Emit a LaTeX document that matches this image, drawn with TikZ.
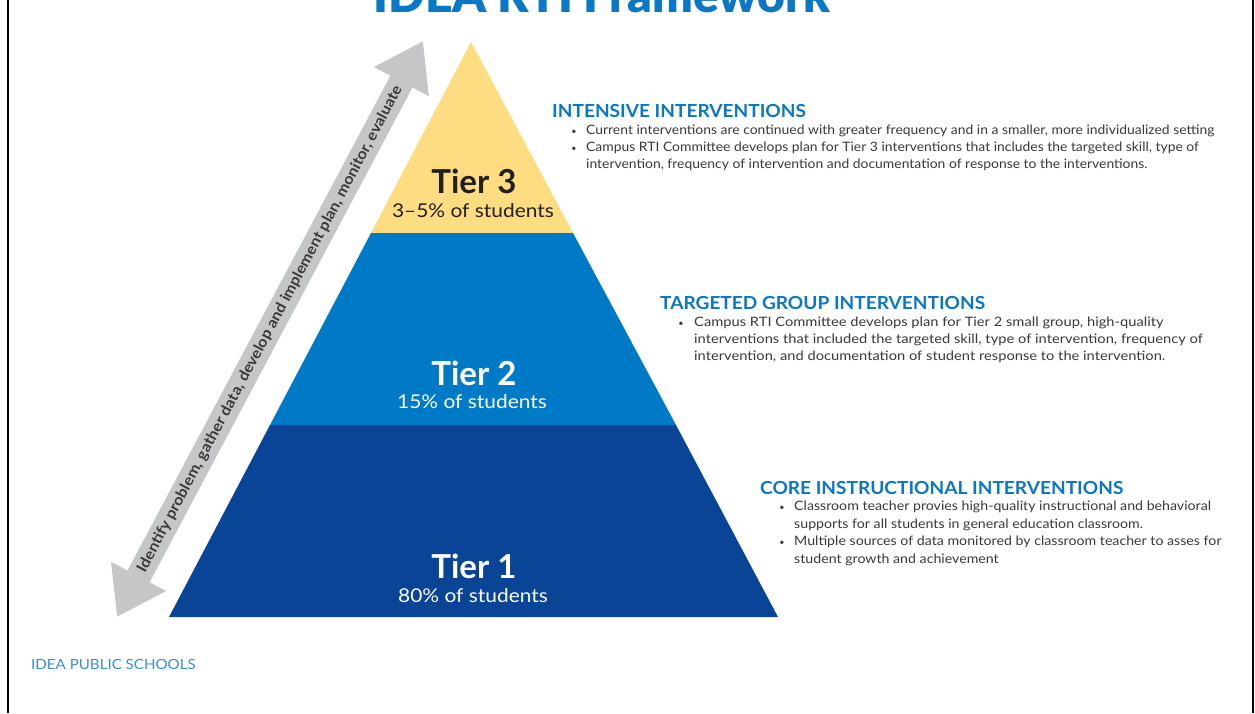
\documentclass[tikz,border=0pt]{standalone}
\usepackage{fontspec}
\setmainfont{Lato}
\newfontfamily\heavyfont{Lato Black}
\newfontfamily\shareface{Lato}[FakeStretch=1.1]
\newfontfamily\headface{Lato}[FakeStretch=1.06]
\newfontfamily\cycleface{Lato}[FakeStretch=1.07]
\newfontfamily\bodythree{Lato}[FakeStretch=1.07]
\newfontfamily\bodytwo{Lato}[FakeStretch=1.13]
\newfontfamily\bodyone{Lato}[FakeStretch=1.09]
\newfontfamily\footface{Lato}[FakeStretch=1.08]
\usetikzlibrary{arrows.meta}

\definecolor{tierthree}{HTML}{FDDC82}
\definecolor{tiertwo}{HTML}{0079C6}
\definecolor{tierone}{HTML}{0A4497}
\definecolor{headblue}{HTML}{0A78C6}
\definecolor{footblue}{HTML}{3A8FD0}
\definecolor{cyclegray}{HTML}{C5C6C8}
\definecolor{inkdark}{HTML}{231F20}
\definecolor{bodyink}{HTML}{3A3A3A}

\tikzset{
  tiername/.style={inner sep=0, font=\fontsize{33}{36}\selectfont\bfseries},
  tiershare/.style={inner sep=0, font=\shareface\fontsize{19}{22}\selectfont},
  sectionhead/.style={inner sep=0, anchor=base west, text=headblue, font=\headface\fontsize{18}{20}\selectfont\bfseries},
  bodytext/.style={inner sep=0, anchor=north west, align=left, text=bodyink},
  bulletmark/.style={inner sep=0, anchor=base, text=bodyink, font=\fontsize{9}{10}\selectfont},
  frameline/.style={line width=2.5pt, black},
  cyclehead/.tip={Triangle[width=59pt,length=46pt]},
}

\begin{document}
\begin{tikzpicture}[x=1pt, y=-1pt]
\useasboundingbox (0,0) rectangle (1255,713);
\fill[white] (0,0) rectangle (1255,713);

% side rules
\draw[frameline] (8,0) -- (8,713);
\draw[frameline] (1253,0) -- (1253,713);

% title, running off the top edge
\node[inner sep=0, anchor=base, text=headblue, font=\fontsize{48}{52}\selectfont\heavyfont] (title) at (602,12) {IDEA RTI Framework};

% pyramid tiers
\fill[tierthree] (471,42) -- (573,233) -- (371,233) -- cycle;
\fill[tiertwo] (371,233) -- (573,233) -- (676,425) -- (270,425) -- cycle;
\fill[tierone] (270,425) -- (676,425) -- (778,617) -- (169,617) -- cycle;

\node[tiername, text=inkdark] (t3) at (474,181) {Tier 3};
\node[tiershare, text=inkdark] (s3) at (473,211) {3–5\% of students};
\node[tiername, text=white] (t2) at (474,373) {Tier 2};
\node[tiershare, text=white] (s2) at (472,402) {15\% of students};
\node[tiername, text=white] (t1) at (474,566) {Tier 1};
\node[tiershare, text=white] (s1) at (473,596) {80\% of students};

% process cycle arrow
\coordinate (cyclelow) at (117,617);
\coordinate (cyclehigh) at (423,41);
\draw[cyclegray, line width=25pt, cyclehead-cyclehead] (cyclelow) -- (cyclehigh);
\path (cyclelow) -- (cyclehigh) node[midway, sloped, inner sep=0, text=bodyink, font=\cycleface\fontsize{15}{16}\selectfont\bfseries] (cycletext) {Identify problem, gather data, develop and implement plan, monitor, evaluate};

% tier 3 description
\node[sectionhead] (h3) at (552,117) {INTENSIVE INTERVENTIONS};
\node[bodytext, font=\bodythree\fontsize{13}{17}\selectfont] (p3a) at (586,125) {Current interventions are continued with greater frequency and in a smaller, more individualized setting};
\node[bodytext, font=\bodythree\fontsize{13}{17}\selectfont] (p3b) at (586,142) {Campus RTI Committee develops plan for Tier 3 interventions that includes the targeted skill, type of\\intervention, frequency of intervention and documentation of response to the interventions.};
\node[bulletmark] (b3a) at (574,134) {\textbullet};
\node[bulletmark] (b3b) at (574,151) {\textbullet};

% tier 2 description
\node[sectionhead] (h2) at (660,309) {TARGETED GROUP INTERVENTIONS};
\node[bodytext, font=\bodytwo\fontsize{13}{17}\selectfont] (p2a) at (694,317) {Campus RTI Committee develops plan for Tier 2 small group, high-quality\\interventions that included the targeted skill, type of intervention, frequency of\\intervention, and documentation of student response to the intervention.};
\node[bulletmark] (b2a) at (681,326) {\textbullet};

% tier 1 description
\node[sectionhead] (h1) at (760,494) {CORE INSTRUCTIONAL INTERVENTIONS};
\node[bodytext, font=\bodyone\fontsize{13}{17.5}\selectfont] (p1a) at (794,501) {Classroom teacher provies high-quality instructional and behavioral\\supports for all students in general education classroom.};
\node[bodytext, font=\bodyone\fontsize{13}{17.5}\selectfont] (p1b) at (794,536) {Multiple sources of data monitored by classroom teacher to asses for\\student growth and achievement};
\node[bulletmark] (b1a) at (782,510) {\textbullet};
\node[bulletmark] (b1b) at (782,545) {\textbullet};

% footer
\node[inner sep=0, anchor=base west, text=footblue, font=\footface\fontsize{14}{16}\selectfont] (foot) at (31,669) {IDEA PUBLIC SCHOOLS};
\end{tikzpicture}
\end{document}
